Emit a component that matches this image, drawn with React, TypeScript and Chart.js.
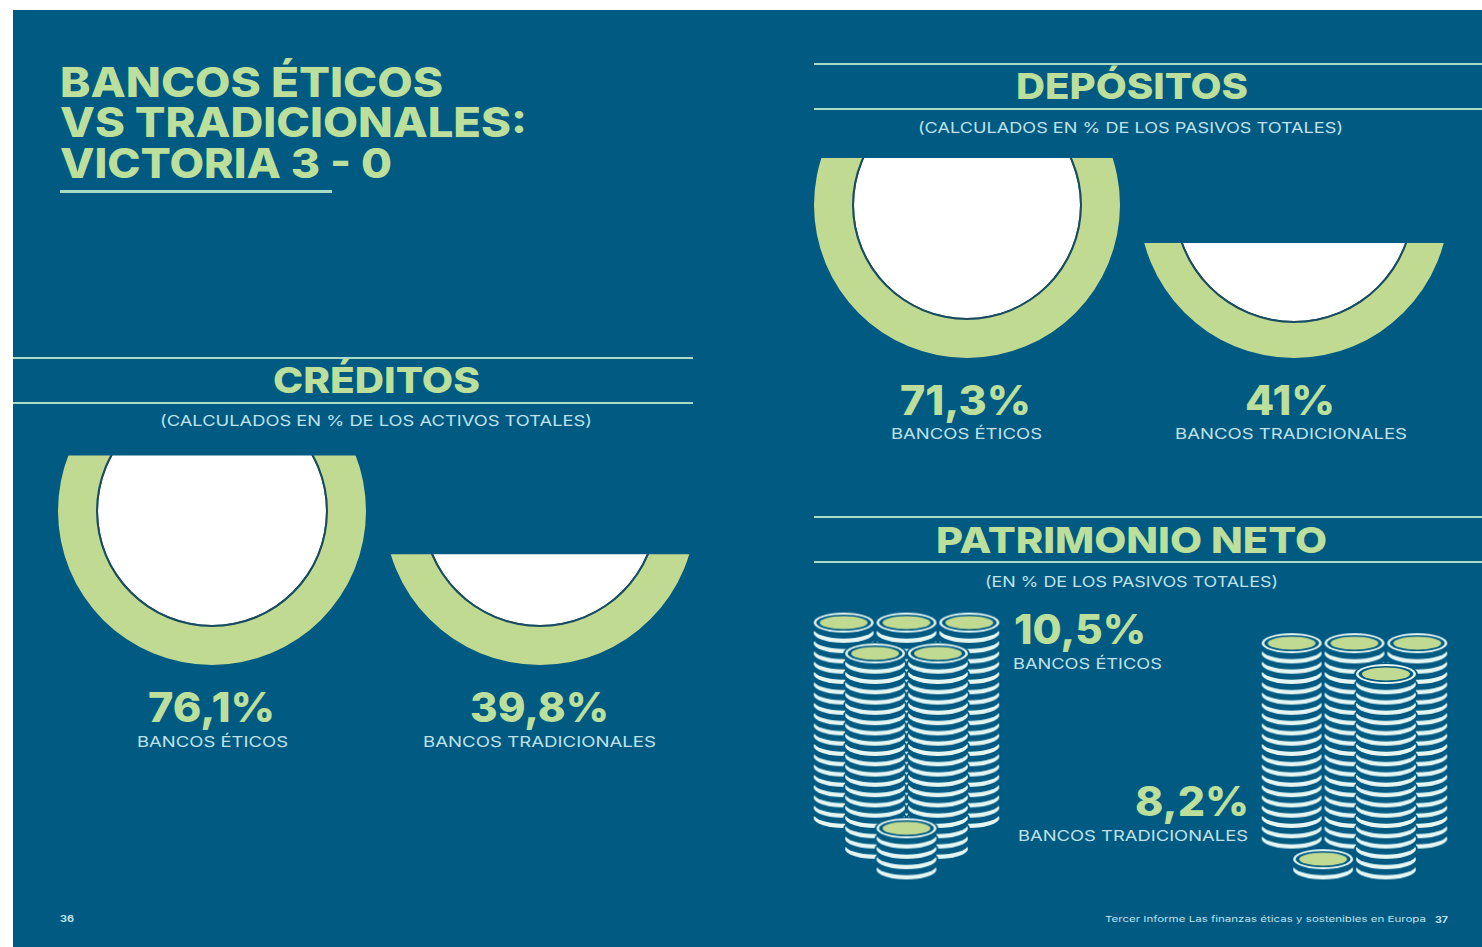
import React, { useEffect, useRef } from "react";
import { Chart, registerables } from "chart.js";

Chart.register(...registerables);

const BG = "#015a82";
const GREEN = "#c0da92";
const TEXT_GREEN = "#bce09c";
const RULE = "#a9dcc6";
const LIGHT = "#bfe2ea";
const FONT = "Inter, 'Open Sans', sans-serif";

// Values
const gaugeNames = ["creditsEthical", "creditsTraditional", "depositsEthical", "depositsTraditional"];
const gaugeValues = [76.1, 39.8, 71.3, 41];
const gaugeFillLevels = [0.68, 0.355, 0.654, 0.371];
const equityValues = [10.5, 8.2];

// Coin stacks: column in half-column units, lowest level, number of coins (back to front)
const ethicalStackColumns = [0, 2, 4, 1, 3, 2];
const ethicalStackBases = [5, 5, 5, 2, 2, 0];
const ethicalStackCoins = [20, 20, 20, 20, 20, 5];
const traditionalStackColumns = [0, 2, 4, 3, 1];
const traditionalStackBases = [3, 3, 3, 0, 0];
const traditionalStackCoins = [20, 20, 20, 20, 2];

const fmt = (v: number) => `${String(v).replace(".", ",")}%`;

const gaugeLayout: Record<string, { cx: number; cy: number; R: number; r: number }> = {
  creditsEthical: { cx: 212, cy: 511, R: 154, r: 114 },
  creditsTraditional: { cx: 540, cy: 509, R: 156, r: 116 },
  depositsEthical: { cx: 967, cy: 205, R: 153, r: 113 },
  depositsTraditional: { cx: 1294, cy: 203, R: 155, r: 118 },
};

function ellipse(ctx: CanvasRenderingContext2D, x: number, y: number, rx: number, ry: number, color: string) {
  ctx.fillStyle = color;
  ctx.beginPath();
  ctx.ellipse(x, y, rx, ry, 0, 0, Math.PI * 2);
  ctx.fill();
}

function coinSprite(top: boolean) {
  const c = document.createElement("canvas");
  c.width = 66;
  c.height = 30;
  const ctx = c.getContext("2d")!;
  ellipse(ctx, 33, 15, 31.8, 11.5, BG);
  ellipse(ctx, 33, 15, 30, 10, "#e6f7f3");
  if (top) {
    ellipse(ctx, 33, 15, 27.5, 8, BG);
    ellipse(ctx, 33, 15, 24, 6.5, GREEN);
  } else {
    ellipse(ctx, 33, 10.8, 30, 10, BG);
  }
  return c;
}

function Gauge({ name }: { name: string }) {
  const ref = useRef<HTMLCanvasElement>(null);
  const i = gaugeNames.indexOf(name);
  const { cx, cy, R, r } = gaugeLayout[name];
  const size = 2 * R;
  useEffect(() => {
    const level = gaugeFillLevels[i];
    const chart = new Chart(ref.current!, {
      type: "doughnut",
      data: {
        labels: [name],
        datasets: [
          { data: [gaugeValues[i]], backgroundColor: GREEN, borderWidth: 0, weight: R - r - 2 },
          { data: [gaugeValues[i]], backgroundColor: "#1d4a5c", borderWidth: 0, weight: 2 },
          { data: [gaugeValues[i]], backgroundColor: "#ffffff", borderWidth: 0, weight: r },
        ],
      } as any,
      options: {
        responsive: false,
        animation: false,
        cutout: 0,
        layout: { padding: 0 },
        plugins: { legend: { display: false }, tooltip: { enabled: false } },
      } as any,
      plugins: [
        {
          id: "fillLevel",
          beforeDatasetsDraw(c: any) {
            const ctx = c.ctx;
            const yCut = c.chartArea.top + 2 * R * (1 - level);
            ctx.save();
            ctx.beginPath();
            ctx.rect(0, yCut, c.width, c.height - yCut);
            ctx.clip();
          },
          afterDatasetsDraw(c: any) {
            c.ctx.restore();
          },
        },
      ],
    });
    return () => chart.destroy();
  }, []);
  return (
    <canvas
      ref={ref}
      width={size}
      height={size}
      style={{ position: "absolute", left: cx - size / 2, top: cy - size / 2, width: size, height: size }}
    />
  );
}

function Coins({
  columns,
  bases,
  counts,
  left,
}: {
  columns: number[];
  bases: number[];
  counts: number[];
  left: number;
}) {
  const ref = useRef<HTMLCanvasElement>(null);
  useEffect(() => {
    const body = coinSprite(false);
    const head = coinSprite(true);
    const datasets = columns.map((col, s) => ({
      data: Array.from({ length: counts[s] }, (_, k) => ({ x: col, y: bases[s] + k })),
      order: columns.length - s,
      pointStyle: (ctx: any) => (ctx.dataIndex === counts[s] - 1 ? head : body),
      pointRadius: 10,
      showLine: false,
      clip: false,
    }));
    const chart = new Chart(ref.current!, {
      type: "scatter",
      data: { datasets } as any,
      options: {
        responsive: false,
        animation: false,
        layout: { padding: 0, autoPadding: false },
        plugins: { legend: { display: false }, tooltip: { enabled: false } },
        scales: {
          x: { type: "linear", min: -1.2, max: 5.2, display: false },
          y: { type: "linear", min: -2, max: 26, display: false },
        },
      } as any,
    });
    return () => chart.destroy();
  }, []);
  return <canvas ref={ref} width={201} height={288} style={{ position: "absolute", left, top: 602, width: 201, height: 288 }} />;
}

const measureCtx = document.createElement("canvas").getContext("2d")!;

function Txt({
  s,
  x0,
  x1,
  cy,
  size,
  weight,
  color,
}: {
  s: string;
  x0: number;
  x1: number;
  cy: number;
  size: number;
  weight: number;
  color: string;
}) {
  measureCtx.font = `${weight} ${size}px ${FONT}`;
  const w = measureCtx.measureText(s).width;
  const h = size * 1.4;
  return (
    <span
      style={{
        position: "absolute",
        left: x0,
        top: cy - h / 2,
        lineHeight: `${h}px`,
        whiteSpace: "nowrap",
        fontFamily: FONT,
        fontSize: size,
        fontWeight: weight,
        color,
        transform: `scaleX(${(x1 - x0) / w})`,
        transformOrigin: "left center",
      }}
    >
      {s}
    </span>
  );
}

function Rule({ x0, x1, y, h = 2 }: { x0: number; x1: number; y: number; h?: number }) {
  return <div style={{ position: "absolute", left: x0, top: y - h / 2, width: x1 - x0, height: h, background: RULE }} />;
}

export default function App() {
  useEffect(() => {
    document.body.style.margin = "0";
    document.body.style.overflow = "hidden";
    document.body.style.background = "#ffffff";
  }, []);
  const H = (s: string, x0: number, x1: number, cy: number) => (
    <Txt s={s} x0={x0} x1={x1} cy={cy} size={36} weight={800} color={TEXT_GREEN} />
  );
  const T = (s: string, x0: number, x1: number, cy: number) => (
    <Txt s={s} x0={x0} x1={x1} cy={cy + 1} size={41} weight={800} color={TEXT_GREEN} />
  );
  const P = (s: string, x0: number, x1: number, cy: number) => (
    <Txt s={s} x0={x0} x1={x1} cy={cy} size={41} weight={800} color={TEXT_GREEN} />
  );
  const S = (s: string, x0: number, x1: number, cy: number) => (
    <Txt s={s} x0={x0} x1={x1} cy={cy} size={15} weight={400} color={LIGHT} />
  );
  return (
    <div style={{ position: "fixed", left: 0, top: 0, width: 1482, height: 947, overflow: "hidden", background: "#fff" }}>
      <div style={{ position: "absolute", left: 13, top: 10, width: 1469, height: 937, background: BG }} />

      {T("BANCOS ÉTICOS", 60, 443, 82)}
      {T("VS TRADICIONALES:", 60, 527, 122)}
      {T("VICTORIA 3 - 0", 60, 392, 163)}
      <Rule x0={60} x1={332} y={191} h={3} />

      <Rule x0={13} x1={693} y={358} />
      <Rule x0={13} x1={693} y={403} />
      {H("CRÉDITOS", 273, 480, 380)}
      {S("(CALCULADOS EN % DE LOS ACTIVOS TOTALES)", 160, 592, 420)}
      <Gauge name="creditsEthical" />
      <Gauge name="creditsTraditional" />
      {P(fmt(gaugeValues[0]), 148, 275, 708)}
      {S("BANCOS ÉTICOS", 137, 288, 741)}
      {P(fmt(gaugeValues[1]), 470, 609, 708)}
      {S("BANCOS TRADICIONALES", 423, 656, 741)}

      <Rule x0={814} x1={1482} y={64} />
      <Rule x0={814} x1={1482} y={109} />
      {H("DEPÓSITOS", 1016, 1248, 86)}
      {S("(CALCULADOS EN % DE LOS PASIVOS TOTALES)", 918, 1343, 127)}
      <Gauge name="depositsEthical" />
      <Gauge name="depositsTraditional" />
      {P(fmt(gaugeValues[2]), 900, 1031, 401)}
      {S("BANCOS ÉTICOS", 891, 1042, 433)}
      {P(fmt(gaugeValues[3]), 1245, 1335, 401)}
      {S("BANCOS TRADICIONALES", 1175, 1407, 433)}

      <Rule x0={814} x1={1482} y={517} />
      <Rule x0={814} x1={1482} y={562} />
      {H("PATRIMONIO NETO", 936, 1327, 540)}
      {S("(EN % DE LOS PASIVOS TOTALES)", 985, 1278, 581)}
      <Coins columns={ethicalStackColumns} bases={ethicalStackBases} counts={ethicalStackCoins} left={806} />
      <Coins columns={traditionalStackColumns} bases={traditionalStackBases} counts={traditionalStackCoins} left={1254} />
      {P(fmt(equityValues[0]), 1014, 1146, 630)}
      {S("BANCOS ÉTICOS", 1013, 1162, 663)}
      {P(fmt(equityValues[1]), 1135, 1249, 802)}
      {S("BANCOS TRADICIONALES", 1018, 1248, 835)}

      <Txt s="36" x0={60} x1={74} cy={919} size={9} weight={700} color={LIGHT} />
      <Txt s="Tercer Informe Las finanzas éticas y sostenibles en Europa" x0={1105} x1={1426} cy={920} size={8} weight={400} color={LIGHT} />
      <Txt s="37" x0={1435} x1={1448} cy={920} size={9} weight={700} color={LIGHT} />
    </div>
  );
}
